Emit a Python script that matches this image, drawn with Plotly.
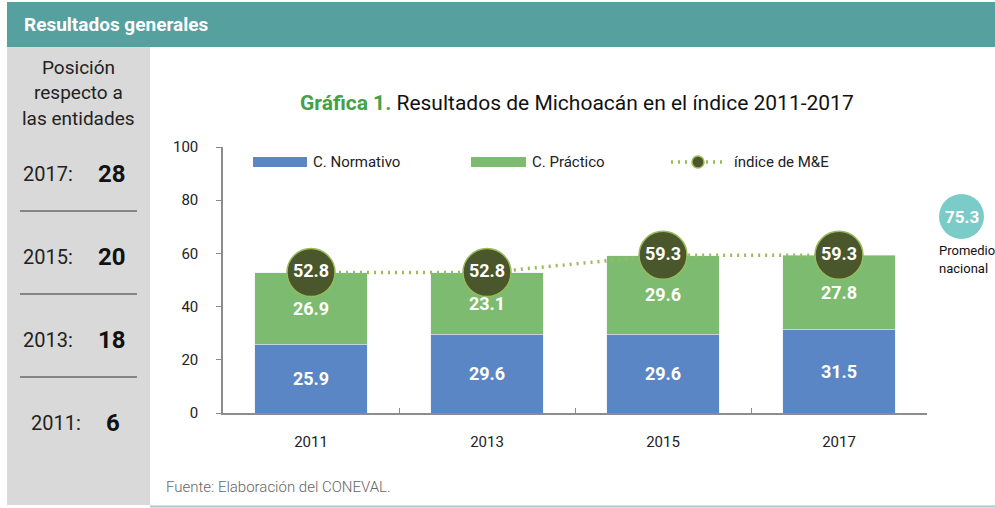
import plotly.graph_objects as go

# Data
years = ["2011", "2013", "2015", "2017"]
normativo = [25.9, 29.6, 29.6, 31.5]
practico = [26.9, 23.1, 29.6, 27.8]
indice = [52.8, 52.8, 59.3, 59.3]
rank_years = ["2017", "2015", "2013", "2011"]
rank_values = ["28", "20", "18", "6"]
promedio_nacional = 75.3

W, H = 995, 508
L, R, T, B = 223, 68, 147, 95
PW, PH = W - L - R, H - T - B

BLUE = "#5B86C5"
GREEN = "#7DBB71"
DARK = "#4A562B"
LIME = "#9BBB59"
TEAL = "#56A0A0"
FONT = "Roboto"


def px(x):
    return (x - L) / PW


def py(y):
    return (H - B - y) / PH


fig = go.Figure()

fig.add_trace(go.Bar(
    x=years, y=normativo, name="C. Normativo", marker_color=BLUE,
    text=[f"{v:.1f}" for v in normativo], textposition="inside",
    insidetextanchor="middle",
    textfont=dict(color="white", size=18, family=FONT, weight="bold"),
    width=0.64, showlegend=False,
))
fig.add_trace(go.Bar(
    x=years, y=practico, name="C. Práctico", marker_color=GREEN,
    text=[f"{v:.1f}" for v in practico], textposition="inside",
    insidetextanchor="middle",
    textfont=dict(color="white", size=18, family=FONT, weight="bold"),
    width=0.64, showlegend=False,
))
fig.add_trace(go.Scatter(
    x=years, y=indice, name="índice de M&E", mode="lines+markers+text",
    line=dict(color=LIME, width=3.5, dash="2px,5px"),
    marker=dict(size=48, color=DARK, line=dict(color=LIME, width=1.5)),
    text=[f"{v:.1f}" for v in indice], textposition="middle center",
    textfont=dict(color="white", size=18, family=FONT, weight="bold"),
    showlegend=False, cliponaxis=False,
))

shapes = []
annotations = []

# Header band and side panel
shapes.append(dict(type="rect", xref="paper", yref="paper", layer="below",
                   x0=px(7), x1=px(1000), y0=py(2), y1=py(47),
                   fillcolor=TEAL, line_width=0))
shapes.append(dict(type="rect", xref="paper", yref="paper", layer="below",
                   x0=px(7), x1=px(150), y0=py(47), y1=py(505),
                   fillcolor="#D9D9D9", line_width=0))
shapes.append(dict(type="line", xref="paper", yref="paper",
                   x0=px(150), x1=px(1000), y0=py(506.5), y1=py(506.5),
                   line=dict(color="#A8CACA", width=2)))
annotations.append(dict(xref="paper", yref="paper", x=px(22), y=py(25),
                        xanchor="left", yanchor="middle", showarrow=False,
                        text="<b>Resultados generales</b>",
                        font=dict(color="white", size=19, family=FONT)))

# Side panel text
for i, line in enumerate(["Posición", "respecto a", "las entidades"]):
    annotations.append(dict(xref="paper", yref="paper", x=px(78), y=py(67 + 25.5 * i),
                            xanchor="center", yanchor="middle", showarrow=False,
                            text=line, font=dict(color="#222", size=19, family=FONT)))

rank_y = [174, 257, 340, 423]
for i, (yr, val) in enumerate(zip(rank_years, rank_values)):
    last = i == len(rank_years) - 1
    annotations.append(dict(xref="paper", yref="paper",
                            x=px(83 if last else 75), y=py(rank_y[i]),
                            xanchor="right", yanchor="middle", showarrow=False,
                            text=f"{yr}:", font=dict(color="#222", size=20, family=FONT)))
    annotations.append(dict(xref="paper", yref="paper",
                            x=px(104 if last else 96), y=py(rank_y[i]),
                            xanchor="left", yanchor="middle", showarrow=False,
                            text=f"<b>{val}</b>", font=dict(color="#111", size=24, family=FONT)))
    if not last:
        shapes.append(dict(type="line", xref="paper", yref="paper",
                           x0=px(20), x1=px(137), y0=py(rank_y[i] + 37), y1=py(rank_y[i] + 37),
                           line=dict(color="#333", width=1)))

# Chart title
annotations.append(dict(xref="paper", yref="paper", x=px(577), y=py(103),
                        xanchor="center", yanchor="middle", showarrow=False,
                        text="<span style='color:#45A046'><b>Gráfica 1.</b></span> "
                             "Resultados de Michoacán en el índice 2011-2017",
                        font=dict(color="#111", size=21, family=FONT)))

# Legend
shapes.append(dict(type="rect", xref="paper", yref="paper",
                   x0=px(253), x1=px(307), y0=py(157), y1=py(167),
                   fillcolor=BLUE, line_width=0))
annotations.append(dict(xref="paper", yref="paper", x=px(311), y=py(162),
                        xanchor="left", yanchor="middle", showarrow=False,
                        text="C. Normativo", font=dict(color="#222", size=15, family=FONT)))
shapes.append(dict(type="rect", xref="paper", yref="paper",
                   x0=px(471), x1=px(526), y0=py(157), y1=py(167),
                   fillcolor=GREEN, line_width=0))
annotations.append(dict(xref="paper", yref="paper", x=px(530), y=py(162),
                        xanchor="left", yanchor="middle", showarrow=False,
                        text="C. Práctico", font=dict(color="#222", size=15, family=FONT)))
shapes.append(dict(type="line", xref="paper", yref="paper",
                   x0=px(671), x1=px(722), y0=py(162), y1=py(162),
                   line=dict(color=LIME, width=3.5, dash="2px,5px")))
shapes.append(dict(type="circle", xref="paper", yref="paper",
                   x0=px(692), x1=px(704), y0=py(156), y1=py(168),
                   fillcolor=DARK, line=dict(color=LIME, width=1.5)))
annotations.append(dict(xref="paper", yref="paper", x=px(732), y=py(162),
                        xanchor="left", yanchor="middle", showarrow=False,
                        text="índice de M&E", font=dict(color="#222", size=15, family=FONT)))

# National average badge
shapes.append(dict(type="circle", xref="paper", yref="paper",
                   x0=px(939), x1=px(984), y0=py(194), y1=py(239),
                   fillcolor="#7BCBC9", line_width=0))
annotations.append(dict(xref="paper", yref="paper", x=px(961.5), y=py(216.5),
                        xanchor="center", yanchor="middle", showarrow=False,
                        text=f"<b>{promedio_nacional:.1f}</b>",
                        font=dict(color="white", size=17, family=FONT)))
annotations.append(dict(xref="paper", yref="paper", x=px(937), y=py(250),
                        xanchor="left", yanchor="middle", showarrow=False,
                        text="Promedio", font=dict(color="#111", size=13, family=FONT)))
annotations.append(dict(xref="paper", yref="paper", x=px(937), y=py(268),
                        xanchor="left", yanchor="middle", showarrow=False,
                        text="nacional", font=dict(color="#111", size=13, family=FONT)))

# Source note
annotations.append(dict(xref="paper", yref="paper", x=px(164), y=py(487),
                        xanchor="left", yanchor="middle", showarrow=False,
                        text="Fuente: Elaboración del CONEVAL.",
                        font=dict(color="#666", size=15, family=FONT, weight=300)))

fig.update_layout(
    width=W, height=H, barmode="stack",
    margin=dict(l=L, r=R, t=T, b=B, pad=0),
    paper_bgcolor="white", plot_bgcolor="white",
    shapes=shapes, annotations=annotations,
    font=dict(family=FONT, color="#222"),
    xaxis=dict(type="category", range=[-0.5, 3.5], tickson="boundaries",
               ticks="inside", ticklen=5, tickcolor="#888",
               showline=True, linecolor="#8C8C8C", linewidth=1.5,
               showgrid=False, tickfont=dict(size=15, color="#222"),
               ticklabelstandoff=14),
    yaxis=dict(range=[0, 100], dtick=20, ticks="outside", ticklen=5,
               tickcolor="#888", showline=True, linecolor="#8C8C8C",
               linewidth=1.5, showgrid=False, zeroline=False,
               tickfont=dict(size=15, color="#222"), ticklabelstandoff=15),
)

fig.write_html("out.html")
